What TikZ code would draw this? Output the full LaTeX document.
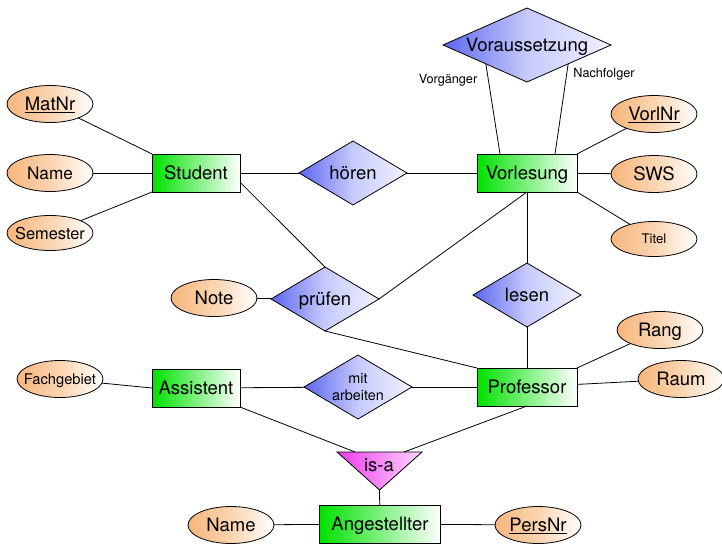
\documentclass[tikz,border=0pt]{standalone}
\usepackage{fontspec}
\setmainfont{TeX Gyre Heros}
\usetikzlibrary{shapes.geometric,calc}
\definecolor{entL}{RGB}{0,225,0}
\definecolor{attL}{RGB}{246,182,124}
\definecolor{attM}{RGB}{250,212,176}
\definecolor{relL}{RGB}{92,102,240}
\definecolor{relM}{RGB}{198,202,250}
\definecolor{relR}{RGB}{242,242,255}
\definecolor{isaL}{RGB}{236,60,236}
\definecolor{isaR}{RGB}{255,214,255}
\begin{document}
\begin{tikzpicture}[x=1pt,y=-1pt,line width=0.8pt,
  ent/.style={draw,rectangle,minimum height=38pt,inner sep=0pt,outer sep=0pt,
    left color=entL,right color=white,font=\fontsize{18.5}{20}\selectfont,text depth=0pt},
  attr/.style={draw,ellipse,minimum width=86pt,minimum height=37pt,inner sep=0pt,outer sep=0pt,
    left color=attL,right color=white,middle color=attM,font=\fontsize{18.5}{20}\selectfont,text depth=0pt},
  rel/.style={draw,diamond,aspect=1.7,minimum width=108pt,minimum height=64pt,inner sep=0pt,outer sep=0pt,
    left color=relL,right color=relR,middle color=relM,font=\fontsize{18.5}{20}\selectfont,text depth=0pt},
  lbl/.style={font=\fontsize{12.7}{14}\selectfont,inner sep=0pt,text depth=0pt}
]
\useasboundingbox (0,0) rectangle (722,543);
% entities
\node[ent,minimum width=88pt] (stud) at (196,173) {Student};
\node[ent,minimum width=100pt] (vorl) at (527,173) {Vorlesung};
\node[ent,minimum width=100pt] (prof) at (527,387) {Professor};
\node[ent,minimum width=88pt] (assi) at (196,388) {Assistent};
\node[ent,minimum width=121pt] (ang) at (380,524) {Angestellter};
% relationships
\node[rel,aspect=2.27,minimum width=168pt,minimum height=74pt] (vor) at (527,45) {Voraussetzung};
\node[rel] (horen) at (353,173) {hören};
\node[rel] (pruf) at (325,299) {prüfen};
\node[rel] (lesen) at (527,295) {lesen};
\node[rel,align=center,text depth={},font=\fontsize{14.4}{17}\selectfont] (mitarb) at (358,387) {mit\\arbeiten};
% attributes
\node[attr] (matnr) at (50,104) {\makebox[0pt]{\underline{MatNr}}};
\node[attr,font=\fontsize{17.2}{19}\selectfont] (name1) at (50,173) {\makebox[0pt]{Name}};
\node[attr,minimum height=35pt,font=\fontsize{16.4}{18}\selectfont] (sem) at (50,233) {\makebox[0pt]{Semester}};
\node[attr] (note) at (214,298) {\makebox[0pt]{Note}};
\node[attr] (vorlnr) at (654,114) {\makebox[0pt]{\underline{VorlNr}}};
\node[attr] (sws) at (654,174) {\makebox[0pt]{SWS}};
\node[attr,minimum height=35pt,font=\fontsize{13.2}{15}\selectfont] (titel) at (654,239) {\makebox[0pt]{Titel}};
\node[attr] (rang) at (660,330) {\makebox[0pt]{Rang}};
\node[attr] (raum) at (681,379) {\makebox[0pt]{Raum}};
\node[attr,font=\fontsize{14.7}{16}\selectfont] (fach) at (60,379) {\makebox[0pt]{Fachgebiet}};
\node[attr] (name2) at (231,525) {\makebox[0pt]{Name}};
\node[attr] (pers) at (538,525) {\makebox[0pt]{\underline{PersNr}}};
% is-a
\coordinate (isaTL) at (337,452);
\coordinate (isaTR) at (422,452);
\coordinate (isaBot) at (379.5,490);
\coordinate (isaA) at (355,452);
\coordinate (isaB) at (404,452);
\path[draw,left color=isaL,right color=isaR] (isaTL) -- (isaTR) -- (isaBot) -- cycle;
\node[font=\fontsize{18.5}{20}\selectfont,inner sep=0pt,text depth=0pt] (isa) at (379,465) {is-a};
% role labels
\node[lbl] (vg) at (448,79) {Vorgänger};
\node[lbl] (nf) at (604,72.5) {Nachfolger};
% connectors
\draw (matnr) -- (stud.north west);
\draw (name1) -- (stud);
\draw (sem) -- (stud.south west);
\draw (stud) -- (horen);
\draw (horen) -- (vorl);
\draw ($(stud.south east)!0.26!(stud.north east)$) -- (pruf.north);
\draw (pruf.east) -- (vorl.south);
\draw (pruf.south) -- (prof.north west);
\draw (note) -- (pruf);
\draw (vorl) -- (lesen);
\draw (lesen) -- (prof);
\draw ($(vor.west)!0.51!(vor.south)$) -- ($(vorl.north west)+(23,0)$);
\draw ($(vor.south)!0.49!(vor.east)$) -- ($(vorl.north east)+(-22,0)$);
\draw (vorlnr) -- (vorl.north east);
\draw (sws) -- (vorl);
\draw (titel) -- (vorl.south east);
\draw (rang) -- (prof.north east);
\draw (raum) -- (prof);
\draw (fach) -- (assi.west);
\draw (assi) -- (mitarb);
\draw (mitarb) -- (prof);
\draw (assi.south east) -- (isaA);
\draw (prof.south) -- (isaB);
\draw (isaBot) -- (ang);
\draw (name2) -- (ang);
\draw (ang) -- (pers);
\end{tikzpicture}
\end{document}
